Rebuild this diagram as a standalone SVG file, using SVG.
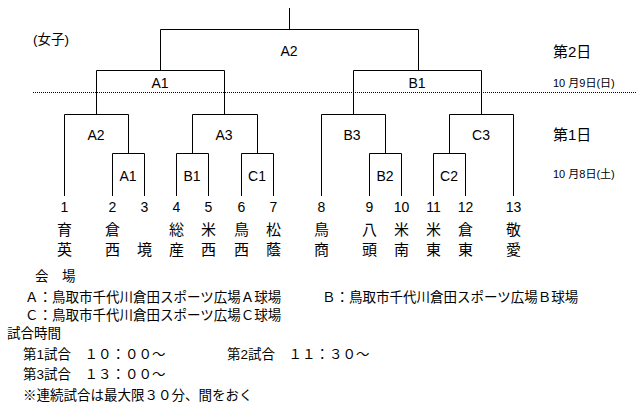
<svg xmlns="http://www.w3.org/2000/svg" width="641" height="413" viewBox="0 0 641 413">
<style>
text{font-family:"Liberation Sans","Noto Sans CJK JP",sans-serif;fill:#000}
.lbl{font-size:14px;text-anchor:middle}
.num{font-size:14px;text-anchor:middle}
.kj{font-size:15px;text-anchor:middle}
.day{font-size:15px}
.date{font-size:11px}
.note{font-size:13.5px}
.ln{fill:none;stroke:#000;stroke-width:1}
.dot{fill:none;stroke:#000;stroke-width:1;stroke-dasharray:1 1}
</style>
<rect width="641" height="413" fill="#fff"/>
<text x="33" y="44" style="font-size:13.5px">(女子)</text>
<g id="connectors">
<path class="ln" d="M289.5 8V29.5"/>
<path class="ln" d="M160.5 70V29.5H418.5V70"/>
<path class="ln" d="M96.5 114V70.5H224.5V114"/>
<path class="ln" d="M353.5 114V70.5H481.5V114"/>
<path class="ln" d="M64.5 196V114.5H128.5V153"/>
<path class="ln" d="M112.5 196V153.5H144.5V196"/>
<path class="ln" d="M192.5 153V114.5H257.5V153"/>
<path class="ln" d="M176.5 196V153.5H208.5V196"/>
<path class="ln" d="M241.5 196V153.5H273.5V196"/>
<path class="ln" d="M321.5 196V114.5H385.5V153"/>
<path class="ln" d="M369.5 196V153.5H401.5V196"/>
<path class="ln" d="M449.5 153V114.5H513.5V196"/>
<path class="ln" d="M433.5 196V153.5H465.5V196"/>
<path class="dot" d="M33 92.5H637"/>
</g>
<g id="matches">
<g id="m-final"><text class="lbl" x="289" y="56">A2</text></g>
<g id="m-a1"><text class="lbl" x="160" y="88">A1</text></g>
<g id="m-b1"><text class="lbl" x="417" y="88">B1</text></g>
<g id="m-a2"><text class="lbl" x="96" y="140">A2</text></g>
<g id="m-a3"><text class="lbl" x="224" y="140">A3</text></g>
<g id="m-b3"><text class="lbl" x="352" y="140">B3</text></g>
<g id="m-c3"><text class="lbl" x="481" y="140">C3</text></g>
<g id="m-a1r1"><text class="lbl" x="128" y="181">A1</text></g>
<g id="m-b1r1"><text class="lbl" x="192" y="181">B1</text></g>
<g id="m-c1r1"><text class="lbl" x="257" y="181">C1</text></g>
<g id="m-b2r1"><text class="lbl" x="385" y="181">B2</text></g>
<g id="m-c2r1"><text class="lbl" x="449" y="181">C2</text></g>
</g>
<g id="days">
<text class="day" x="553" y="57">第2日</text>
<text class="date" x="553" y="87">10 月9日(日)</text>
<text class="day" x="553" y="140">第1日</text>
<text class="date" x="553" y="178">10 月8日(土)</text>
</g>
<g id="teams">
<g id="t1"><text class="num" x="64.5" y="212">1</text><text class="kj" x="64.5" y="235">育</text><text class="kj" x="64.5" y="255">英</text></g>
<g id="t2"><text class="num" x="112.5" y="212">2</text><text class="kj" x="112.5" y="235">倉</text><text class="kj" x="112.5" y="255">西</text></g>
<g id="t3"><text class="num" x="144.5" y="212">3</text><text class="kj" x="144.5" y="255">境</text></g>
<g id="t4"><text class="num" x="176.5" y="212">4</text><text class="kj" x="176.5" y="235">総</text><text class="kj" x="176.5" y="255">産</text></g>
<g id="t5"><text class="num" x="208.5" y="212">5</text><text class="kj" x="208.5" y="235">米</text><text class="kj" x="208.5" y="255">西</text></g>
<g id="t6"><text class="num" x="241.5" y="212">6</text><text class="kj" x="241.5" y="235">鳥</text><text class="kj" x="241.5" y="255">西</text></g>
<g id="t7"><text class="num" x="273.5" y="212">7</text><text class="kj" x="273.5" y="235">松</text><text class="kj" x="273.5" y="255">蔭</text></g>
<g id="t8"><text class="num" x="321.5" y="212">8</text><text class="kj" x="321.5" y="235">鳥</text><text class="kj" x="321.5" y="255">商</text></g>
<g id="t9"><text class="num" x="369.5" y="212">9</text><text class="kj" x="369.5" y="235">八</text><text class="kj" x="369.5" y="255">頭</text></g>
<g id="t10"><text class="num" x="401.5" y="212">10</text><text class="kj" x="401.5" y="235">米</text><text class="kj" x="401.5" y="255">南</text></g>
<g id="t11"><text class="num" x="433.5" y="212">11</text><text class="kj" x="433.5" y="235">米</text><text class="kj" x="433.5" y="255">東</text></g>
<g id="t12"><text class="num" x="465.5" y="212">12</text><text class="kj" x="465.5" y="235">倉</text><text class="kj" x="465.5" y="255">東</text></g>
<g id="t13"><text class="num" x="513.5" y="212">13</text><text class="kj" x="513.5" y="235">敬</text><text class="kj" x="513.5" y="255">愛</text></g>
</g>
<g id="notes" class="note">
<text class="note" x="35" y="281">会　場</text>
<text class="note" x="25" y="302">Ａ：鳥取市千代川倉田スポーツ広場Ａ球場</text>
<text class="note" x="322" y="302">Ｂ：鳥取市千代川倉田スポーツ広場Ｂ球場</text>
<text class="note" x="25" y="320">Ｃ：鳥取市千代川倉田スポーツ広場Ｃ球場</text>
<text class="note" x="7" y="338">試合時間</text>
<text class="note" x="23" y="359">第1試合　１０：００～</text>
<text class="note" x="227" y="359">第2試合　１１：３０～</text>
<text class="note" x="23" y="379">第3試合　１３：００～</text>
<text class="note" x="23" y="400">※連続試合は最大限３０分、間をおく</text>
</g>
</svg>
